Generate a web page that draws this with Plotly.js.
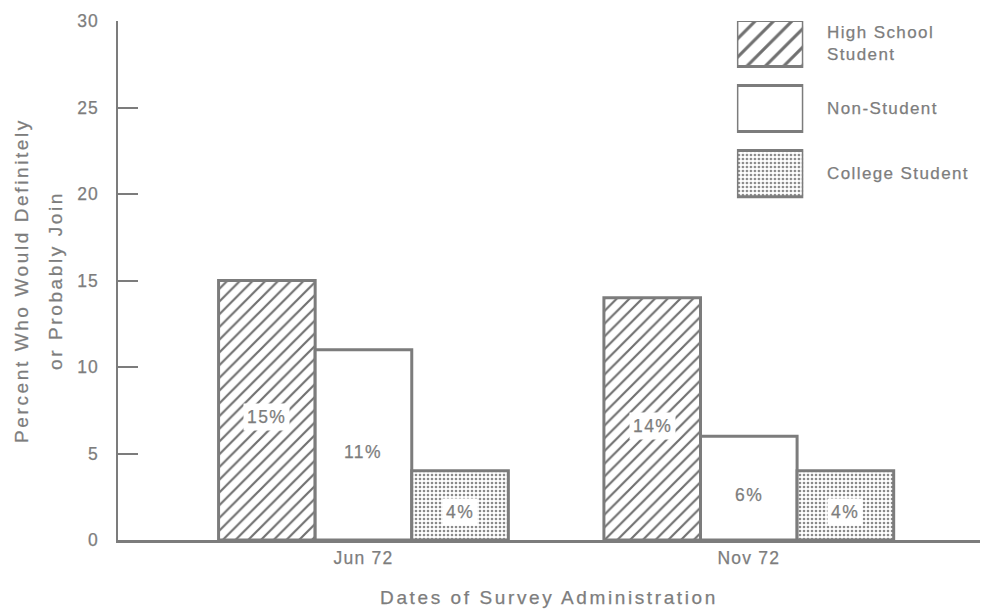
<!DOCTYPE html>
<html>
<head>
<meta charset="utf-8">
<script src="https://cdn.plot.ly/plotly-3.0.1.min.js"></script>
<style>
  html, body { margin: 0; padding: 0; background: #fff; }
  #chart { width: 990px; height: 609px; }
  /* typewriter-era lettering: spaced out a little, slightly heavy strokes */
  .main-svg text { stroke: #7d7d7d; stroke-width: 0.25px; }
  .xtitle, .ytitle { letter-spacing: 2.6px; }
  .xtick text, .ytick text { letter-spacing: 1.2px; }
  .annotation-text { letter-spacing: 1.4px; }
</style>
</head>
<body>
<div id="chart"></div>
<script>
// Survey dates and the share of each group who would definitely or probably join
const categories = ['Jun 72', 'Nov 72'];
const seriesNames = ['High School<br>Student', 'Non-Student', 'College Student'];
const highSchool = [15, 14];
const nonStudent = [11, 6];
const college = [4, 4];

const values = [highSchool, nonStudent, college];

const INK = '#7c7c7c';
const TEXT = '#7d7d7d';
const FONT = 'Liberation Sans, Arial, sans-serif';

// Fill style for each group: hatched, plain, stippled
function patternFor(k, size) {
  if (k === 0) return { shape: '/', size: size || 9, solidity: 0.24, fgcolor: '#707070', bgcolor: '#ffffff', fillmode: 'replace' };
  if (k === 2) return { shape: '.', size: 4, solidity: 0.34, fgcolor: '#8a8a8a', bgcolor: '#ffffff', fillmode: 'replace' };
  return { shape: '' };
}

const BARGAP = 0.248;
const slot = (1 - BARGAP) / 3;

const traces = values.map((vals, k) => ({
  type: 'bar',
  x: categories,
  y: vals,
  name: seriesNames[k].replace('<br>', ' '),
  marker: { color: '#ffffff', line: { color: INK, width: 3 }, pattern: patternFor(k) },
  showlegend: false,
  hoverinfo: 'x+y'
}));

// Legend swatches drawn as bars on their own small axes
values.forEach((vals, k) => {
  traces.push({
    type: 'bar',
    orientation: 'h',
    xaxis: 'x2',
    yaxis: 'y2',
    x: [1],
    y: [k],
    base: 0,
    width: 0.708,
    offset: -0.354,
    marker: { color: '#ffffff', line: { color: INK, width: 3 }, pattern: patternFor(k, 13) },
    showlegend: false,
    hoverinfo: 'skip'
  });
});

// Value labels inside the bars, on a white patch
const annotations = [];
values.forEach((vals, k) => {
  vals.forEach((v, i) => {
    annotations.push({
      xref: 'x', yref: 'y',
      x: i + (k - 1) * slot,
      y: v / 2,
      yshift: -7,
      text: v + '%',
      showarrow: false,
      bgcolor: '#ffffff',
      borderpad: 3,
      font: { family: FONT, size: 17.5, color: TEXT }
    });
  });
});
seriesNames.forEach((name, k) => {
  annotations.push({
    xref: 'x2', yref: 'y2',
    x: 1, y: k,
    xanchor: 'left', xshift: 22,
    yanchor: 'middle',
    align: 'left',
    text: name,
    showarrow: false,
    font: { family: FONT, size: 17, color: TEXT }
  });
});

const layout = {
  width: 990,
  height: 609,
  margin: { l: 118, r: 10, t: 21, b: 69, pad: 0 },
  paper_bgcolor: '#ffffff',
  plot_bgcolor: '#ffffff',
  barmode: 'group',
  bargap: BARGAP,
  bargroupgap: 0,
  font: { family: FONT, color: TEXT },
  xaxis: {
    type: 'category',
    range: [-0.637, 1.6],
    showline: true,
    linecolor: INK,
    linewidth: 2.5,
    ticks: '',
    showgrid: false,
    zeroline: false,
    tickfont: { family: FONT, size: 17.5, color: TEXT },
    title: {
      text: 'Dates of Survey Administration',
      font: { family: FONT, size: 19, color: TEXT },
      standoff: 24
    },
    automargin: false
  },
  yaxis: {
    range: [0, 30],
    tickvals: [0, 5, 10, 15, 20, 25, 30],
    ticks: 'inside',
    ticklen: 20,
    tickwidth: 2,
    tickcolor: INK,
    ticklabelstandoff: 13,
    showline: true,
    linecolor: INK,
    linewidth: 2.5,
    showgrid: false,
    zeroline: false,
    tickfont: { family: FONT, size: 17.5, color: TEXT },
    title: {
      text: '<span style="font-size:19px">Percent Who Would Definitely</span><br><span style="font-size:19px">or Probably Join</span>',
      font: { family: FONT, size: 26, color: TEXT },
      standoff: 7
    },
    automargin: false
  },
  xaxis2: {
    domain: [0.718, 0.795],
    range: [0, 1],
    anchor: 'y2',
    visible: false,
    fixedrange: true
  },
  yaxis2: {
    domain: [0.62, 1.0],
    range: [2.685, -0.346],
    anchor: 'x2',
    visible: false,
    fixedrange: true
  },
  annotations: annotations
};

Plotly.newPlot('chart', traces, layout, { displayModeBar: false, staticPlot: true });
</script>
</body>
</html>
